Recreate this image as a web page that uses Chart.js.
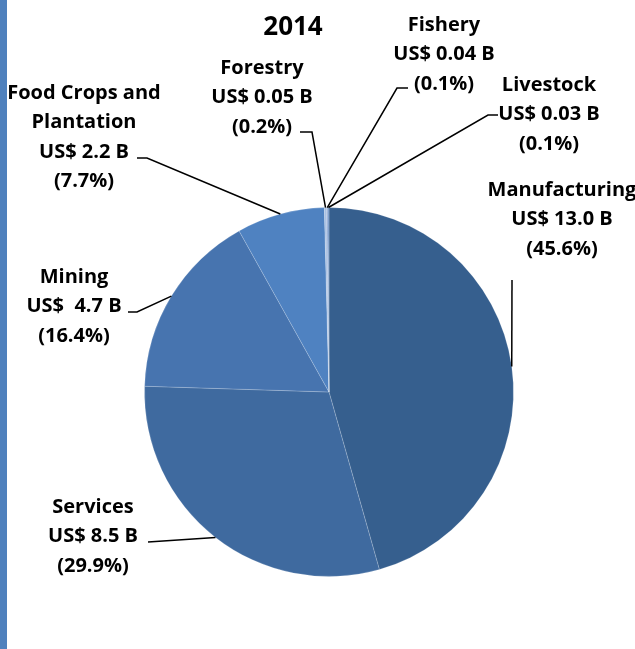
<!DOCTYPE html>
<html>
<head>
<meta charset="utf-8">
<script src="https://cdn.jsdelivr.net/npm/chart.js@4"></script>
<style>
  body { margin: 0; background: #fff; }
  #wrap { position: relative; width: 635px; height: 649px; }
  #bar { position: absolute; left: 0; top: 0; width: 7px; height: 649px; background: #4f81bd; }
  #pie { position: absolute; left: 0; top: 0; }
</style>
</head>
<body>
<div id="wrap">
  <div id="bar"></div>
  <canvas id="pie" width="635" height="649"></canvas>
</div>
<script>
const title = "2014";
const sectors = ["Manufacturing", "Services", "Mining", "Food Crops and\nPlantation", "Forestry", "Fishery", "Livestock"];
const valueText = ["US$ 13.0 B", "US$ 8.5 B", "US$  4.7 B", "US$ 2.2 B", "US$ 0.05 B", "US$ 0.04 B", "US$ 0.03 B"];
const shares = [45.6, 29.9, 16.4, 7.7, 0.2, 0.1, 0.1];
const colors = ["#365f8e", "#3f6a9f", "#4774af", "#4f82c1", "#a9c0e2", "#7d9ccc", "#6b8fc4"];

// where each label sits and how its leader line bends (layout only)
const labelPos = [
  { x: 562, y: 190, bend: [[512, 280]] },
  { x: 93, y: 507, bend: [[148, 542]] },
  { x: 74, y: 277, bend: [[137, 312], [128, 312]] },
  { x: 84, y: 93, bend: [[147, 158], [137, 158]] },
  { x: 262, y: 68, bend: [[312, 132], [300, 132]] },
  { x: 444, y: 25, bend: [[397, 88], [408, 88]] },
  { x: 549, y: 85, bend: [[488, 115], [498, 115]] }
];

const FONT = "'Open Sans', Lato, sans-serif";

const labelPlugin = {
  id: "labels",
  afterDraw(chart) {
    const ctx = chart.ctx;
    const arcs = chart.getDatasetMeta(0).data;
    ctx.save();
    ctx.fillStyle = "#000";
    ctx.textAlign = "center";
    ctx.textBaseline = "middle";
    ctx.font = "bold 26px " + FONT;
    ctx.fillText(title, 293, 28);

    ctx.strokeStyle = "#000";
    ctx.lineWidth = 1.5;
    arcs.forEach((arc, i) => {
      const mid = (arc.startAngle + arc.endAngle) / 2;
      const px = arc.x + Math.cos(mid) * arc.outerRadius;
      const py = arc.y + Math.sin(mid) * arc.outerRadius;
      ctx.beginPath();
      ctx.moveTo(px, py);
      labelPos[i].bend.forEach((p) => ctx.lineTo(p[0], p[1]));
      ctx.stroke();

      const lines = sectors[i].split("\n").concat([valueText[i], "(" + shares[i].toFixed(1) + "%)"]);
      ctx.font = "bold 20px " + FONT;
      lines.forEach((t, j) => {
        ctx.fillText(t, labelPos[i].x, labelPos[i].y + j * 29.5);
      });
    });
    ctx.restore();
  }
};

new Chart(document.getElementById("pie"), {
  type: "pie",
  data: {
    labels: sectors,
    datasets: [{
      data: shares,
      backgroundColor: colors,
      borderColor: "rgba(255,255,255,0.18)",
      borderWidth: 1
    }]
  },
  options: {
    responsive: false,
    animation: false,
    layout: { padding: { left: 144, right: 121, top: 207, bottom: 72 } },
    plugins: {
      legend: { display: false },
      tooltip: { enabled: false }
    }
  },
  plugins: [labelPlugin]
});
</script>
</body>
</html>
